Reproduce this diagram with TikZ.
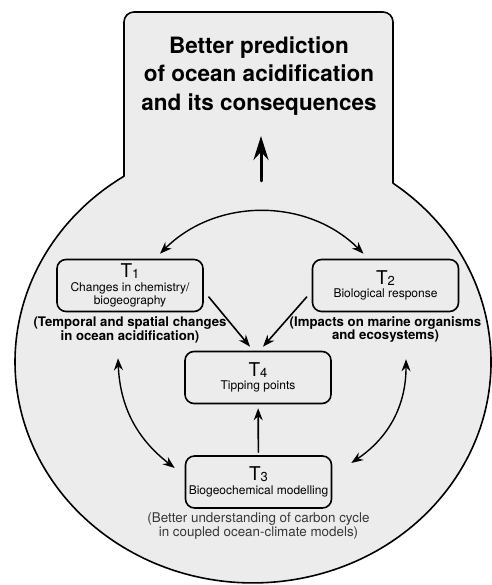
\documentclass[tikz,border=0pt]{standalone}
\usepackage{fontspec}
\setmainfont{TeX Gyre Heros}
\usetikzlibrary{arrows.meta,positioning}
\definecolor{shellgray}{gray}{0.925}
\definecolor{notegray}{gray}{0.22}
\newcommand{\tnum}[1]{{\fontsize{19}{19}\selectfont T\raisebox{-1pt}{\fontsize{13}{13}\selectfont #1}}}

\begin{document}
\begin{tikzpicture}[x=1pt,y=1pt,>={Stealth[length=12pt,width=9pt,inset=4pt]},line cap=round,
		tbox/.style={draw,line width=1.6pt,rounded corners=9pt,minimum width=146pt,minimum height=52pt,
			inner sep=0pt,align=center,font=\fontsize{12}{13.5}\selectfont},
		capbold/.style={align=center,inner sep=0pt,font=\bfseries\fontsize{13.2}{12.5}\selectfont},
		capnote/.style={align=center,inner sep=0pt,text=notegray,font=\fontsize{13.4}{12}\selectfont},
		link/.style={->,line width=1.6pt},
		twoway/.style={<->,line width=1.4pt}]
		\useasboundingbox (0,0) rectangle (491,585);
		%\draw[help lines,step=20] (0,0) grid (491,585);
		\filldraw[fill=shellgray,line width=1.6pt,line join=round] (124,408.7) -- (124,563)
			arc[start angle=180,end angle=90,radius=10] -- (383,573)
			arc[start angle=90,end angle=0,radius=10] -- (393,401.8)
			arc[start angle=53.97,end angle=-237.18,x radius=238,y radius=221] -- cycle;
		\node[font=\bfseries\fontsize{22.5}{28.5}\selectfont,align=center] (goal) at (259,509)
			{Better prediction\\of ocean acidification\\and its consequences};
		\coordinate (upfoot) at (261,404);
		\draw[-{Stealth[length=24pt,width=15pt,inset=8pt]},line width=3pt] (upfoot) -- (261,449);
		% the four themes
		\node[tbox] (t1) at (130,299.5) {\tnum{1}\\Changes in chemistry/\\biogeography};
		\node[tbox] (t2) at (385.5,299.5) {\tnum{2}\\Biological response};
		\node[tbox] (t4) at (258,207.5) {\tnum{4}\\Tipping points};
		\node[tbox] (t3) at (258.5,103) {\tnum{3}\\Biogeochemical modelling};
		\node[capbold,below=4pt of t1] (t1cap) {(Temporal and spatial changes\\in ocean acidification)};
		\node[capbold,below=4pt of t2] (t2cap) {(Impacts on marine organisms\\and ecosystems)};
		\node[capnote,below=4pt of t3] (t3cap) {(Better understanding of carbon cycle\\in coupled ocean-climate models)};
		\draw[link] ([shift={(5,-11.5)}]t1.east) -- ([shift={(-8,4)}]t4.north);
		\draw[link] ([shift={(-5,-11.5)}]t2.west) -- ([shift={(5,4)}]t4.north);
		\draw[link,shorten <=3pt,shorten >=4pt] (t3) -- (t4);
		\draw[twoway] ([shift={(30,5)}]t1.north) to[bend left=45] ([shift={(-22,5)}]t2.north);
		\draw[twoway] ([shift={(-12,-46)}]t1.south) to[bend right=25] ([shift={(-10,14)}]t3.west);
		\draw[twoway] ([shift={(20.5,-47)}]t2.south) to[bend left=28] ([shift={(19,19)}]t3.east);
	\end{tikzpicture}
\end{document}
